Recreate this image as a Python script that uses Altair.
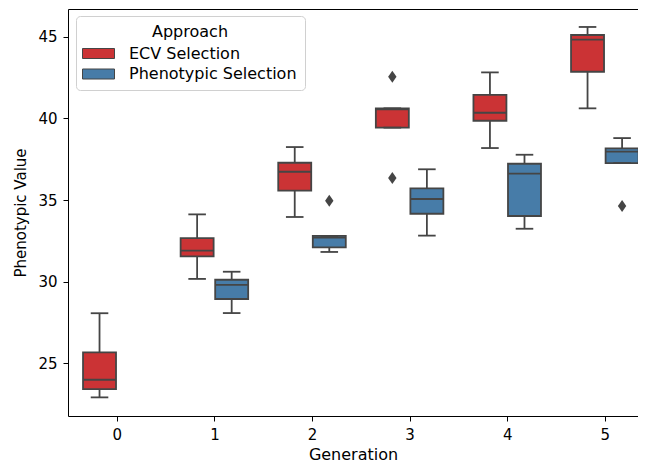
import altair as alt
import pandas as pd

# ---- data (box-plot summaries) ----
generations = [0, 1, 1, 2, 2, 3, 3, 4, 4, 5, 5]
approaches = ["ECV Selection", "ECV Selection", "Phenotypic Selection",
              "ECV Selection", "Phenotypic Selection",
              "ECV Selection", "Phenotypic Selection",
              "ECV Selection", "Phenotypic Selection",
              "ECV Selection", "Phenotypic Selection"]
whisker_lo = [22.92, 30.17, 28.08, 33.96, 31.82, 39.43, 32.82, 38.18, 33.24, 40.61, 37.26]
q1 = [23.43, 31.55, 28.94, 35.57, 32.10, 39.43, 34.16, 39.85, 34.02, 42.85, 37.26]
medians = [24.00, 31.90, 29.80, 36.73, 32.70, 40.55, 35.06, 40.34, 36.61, 44.81, 37.96]
q3 = [25.68, 32.67, 30.12, 37.28, 32.80, 40.61, 35.71, 41.43, 37.22, 45.10, 38.16]
whisker_hi = [28.07, 34.12, 30.61, 38.24, 32.80, 40.61, 36.88, 42.81, 37.77, 45.59, 38.79]

outlier_gen = [2, 3, 3, 5]
outlier_approach = ["Phenotypic Selection", "ECV Selection", "ECV Selection", "Phenotypic Selection"]
outlier_values = [34.96, 42.55, 36.35, 34.63]

approach_order = ["ECV Selection", "Phenotypic Selection"]
approach_colors = ["#cb3335", "#477ca8"]
y_ticks = [25, 30, 35, 40, 45]
x_ticks = [0, 1, 2, 3, 4, 5]

boxes = pd.DataFrame({
    "gen": generations, "approach": approaches, "lo": whisker_lo, "q1": q1,
    "med": medians, "q3": q3, "hi": whisker_hi,
})
outliers = pd.DataFrame({"gen": outlier_gen, "approach": outlier_approach, "value": outlier_values})

LINE = "#454545"
OFF, HALF, CAP = 0.177, 0.169, 0.09

xscale = alt.Scale(domain=[-0.5, 5.34], nice=False, zero=False)
yscale = alt.Scale(domain=[21.78, 46.69], nice=False, zero=False)
yaxis = alt.Axis(values=y_ticks, title="Phenotypic Value")


def Y(field):
    return alt.Y(field, scale=yscale, axis=yaxis)


def with_pos(ch):
    return ch.transform_calculate(
        xc=f"datum.gen + (datum.approach == 'ECV Selection' ? -{OFF} : {OFF})"
    ).transform_calculate(
        xl=f"datum.xc - {HALF}", xr=f"datum.xc + {HALF}",
        cl=f"datum.xc - {CAP}", cr=f"datum.xc + {CAP}",
    )

base = alt.Chart(boxes)

whisk_lo = with_pos(base.mark_rule(color=LINE, strokeWidth=1.8)).encode(
    x=alt.X("xc:Q", scale=xscale, axis=None), y=Y("lo:Q"), y2="q1:Q")
whisk_hi = with_pos(base.mark_rule(color=LINE, strokeWidth=1.8)).encode(
    x=alt.X("xc:Q", scale=xscale, axis=None), y=Y("q3:Q"), y2="hi:Q")
cap_lo = with_pos(base.mark_rule(color=LINE, strokeWidth=1.8)).encode(
    x=alt.X("cl:Q", scale=xscale, axis=None), x2="cr:Q", y=Y("lo:Q"))
cap_hi = with_pos(base.mark_rule(color=LINE, strokeWidth=1.8)).encode(
    x=alt.X("cl:Q", scale=xscale, axis=None), x2="cr:Q", y=Y("hi:Q"))

legend = alt.Legend(
    orient="none", legendX=8, legendY=7, title="Approach",
    titleAnchor="middle", titleFontWeight="normal", titleFontSize=16,
    titleFont="DejaVu Sans", labelFont="DejaVu Sans", labelFontSize=16,
    titleColor="black", labelColor="black", titlePadding=3, labelLimit=0,
    symbolType="M-1.6,-0.5H1.6V0.5H-1.6Z", symbolSize=400,
    symbolStrokeColor=LINE, symbolStrokeWidth=1, symbolOpacity=1,
    symbolOffset=4, labelOffset=20, rowPadding=1.5,
    fillColor="white", strokeColor="#d0d0d0", cornerRadius=4, padding=8,
)

box = with_pos(base.mark_rect(stroke=LINE, strokeWidth=1.8, opacity=1)).encode(
    x=alt.X("xl:Q", scale=xscale,
            axis=alt.Axis(values=x_ticks, format="d", title="Generation")),
    x2="xr:Q",
    y=Y("q1:Q"),
    y2="q3:Q",
    fill=alt.Fill("approach:N", sort=approach_order,
                  scale=alt.Scale(domain=approach_order, range=approach_colors),
                  legend=legend),
)

med = with_pos(base.mark_rule(color=LINE, strokeWidth=1.8)).encode(
    x=alt.X("xl:Q", scale=xscale, axis=None), x2="xr:Q", y=Y("med:Q"))

pts = with_pos(alt.Chart(outliers).mark_point(
    filled=True, color=LINE, opacity=1, size=144,
    shape="M0,-1L0.7,0L0,1L-0.7,0Z")).encode(
    x=alt.X("xc:Q", scale=xscale, axis=None), y=Y("value:Q"))

top_spine = base.mark_rule(opacity=0).encode(
    x=alt.X("gen:Q", scale=xscale,
            axis=alt.Axis(orient="top", labels=False, ticks=False, title=None,
                          domainColor="black", domainWidth=1)),
    y=Y("q1:Q"),
)

chart = alt.layer(
    box, top_spine, whisk_lo, whisk_hi, cap_lo, cap_hi, med, pts
).resolve_axis(x="independent").properties(
    width=570, height=407,
    autosize=alt.AutoSizeParams(type="none"),
    padding={"left": 60, "top": 1, "right": 0, "bottom": 50},
).configure_view(stroke=None).configure_axis(
    labelFont="DejaVu Sans", titleFont="DejaVu Sans",
    labelFontSize=15, titleFontSize=16, titleFontWeight="normal",
    labelColor="black", titleColor="black", domainColor="black",
    tickColor="black", tickSize=5, tickWidth=1, domainWidth=1,
    grid=False, labelPadding=6,
).configure_axisX(titlePadding=4).configure_axisY(titlePadding=9, titleFontSize=15)

chart.save("out.html", embed_options={"renderer": "svg", "actions": False})
